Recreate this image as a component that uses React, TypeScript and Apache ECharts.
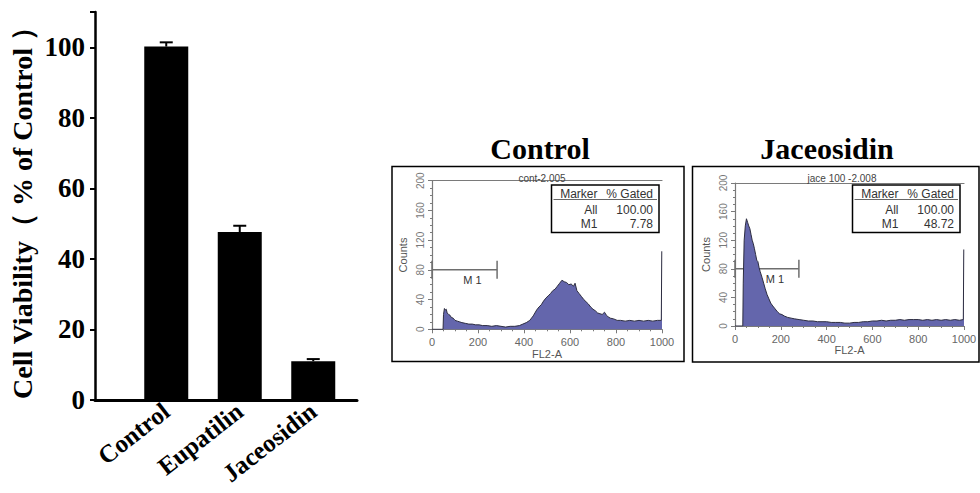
import React, { useEffect, useRef } from "react";
import * as echarts from "echarts";

const categories = ["Control", "Eupatilin", "Jaceosidin"];
const viability = [100.2, 47.6, 11.0];
const viabilityErr = [1.2, 1.8, 0.6];
const viabilityTicks = [0, 20, 40, 60, 80, 100];

const controlHist: number[][] = [
  [0, 0], [48, 0], [50, 20], [54, 28], [58, 26], [62, 27], [66, 22], [72, 20], [78, 19], [84, 16],
  [92, 15], [100, 12], [110, 11], [120, 10], [130, 9], [145, 8], [160, 7], [175, 7], [190, 6],
  [205, 6], [220, 5], [240, 5], [260, 4], [280, 5], [300, 4], [320, 3], [340, 4], [360, 4],
  [380, 5], [395, 7], [410, 9], [425, 12], [440, 18], [455, 26], [465, 30], [475, 33], [485, 38],
  [495, 42], [505, 45], [515, 48], [525, 52], [535, 54], [545, 58], [555, 62], [565, 66], [575, 64],
  [585, 63], [595, 60], [605, 61], [615, 58], [622, 62], [630, 52], [640, 48], [650, 44], [660, 40],
  [670, 37], [680, 34], [690, 30], [700, 27], [710, 25], [720, 22], [730, 21], [740, 20], [750, 23],
  [758, 19], [765, 17], [775, 15], [790, 14], [805, 12], [820, 12], [840, 11], [860, 12], [880, 11],
  [900, 12], [920, 11], [940, 12], [960, 11], [980, 12], [997, 12], [999, 105], [1000, 105],
];

const jaceHist: number[][] = [
  [0, 0], [34, 0], [36, 60], [40, 120], [45, 140], [50, 150], [55, 145], [60, 140], [65, 136],
  [70, 128], [75, 120], [80, 115], [85, 108], [90, 100], [95, 92], [100, 90], [105, 82], [110, 76],
  [118, 68], [125, 60], [132, 52], [140, 44], [148, 38], [156, 32], [165, 28], [175, 24], [185, 20],
  [195, 17], [205, 16], [215, 14], [230, 12], [245, 11], [260, 10], [280, 9], [300, 8], [320, 7],
  [340, 7], [360, 6], [380, 6], [400, 6], [420, 5], [440, 5], [460, 5], [480, 4], [500, 4], [520, 5],
  [540, 5], [560, 6], [580, 6], [600, 7], [620, 7], [640, 8], [660, 7], [680, 8], [700, 8], [720, 9],
  [740, 8], [760, 9], [780, 9], [800, 9], [820, 8], [840, 9], [860, 8], [880, 9], [900, 8], [920, 9],
  [940, 8], [960, 9], [980, 8], [997, 9], [999, 107], [1000, 107],
];

const controlMarker = [[0, 283, 80]];
const jaceMarker = [[0, 279, 80]];
const controlTable = [["Marker", "% Gated"], ["All", "100.00"], ["M1", "7.78"]];
const jaceTable = [["Marker", "% Gated"], ["All", "100.00"], ["M1", "48.72"]];

const SERIF = "'Liberation Serif', 'Times New Roman', serif";
const SANS = "'Liberation Sans', Arial, sans-serif";

function histAxes(grid: number) {
  const gray = "#7a7a7a";
  return {
    x: [
      {
        gridIndex: grid, type: "value", min: 0, max: 1000, interval: 200,
        name: "FL2-A", nameLocation: "middle", nameGap: 18,
        nameTextStyle: { color: "#555", fontSize: 11, fontFamily: SANS },
        axisLine: { show: true, onZero: false, lineStyle: { color: gray, width: 1.2 } },
        axisTick: { show: true, length: 4, lineStyle: { color: gray } },
        minorTick: { show: true, splitNumber: 4, length: 2, lineStyle: { color: gray } },
        axisLabel: { color: "#666", fontSize: 11, fontFamily: SANS, margin: 7, formatter: (v: number) => String(v) },
        splitLine: { show: false },
      },
      {
        gridIndex: grid, type: "value", min: 0, max: 1000, position: "top",
        axisLine: { show: true, onZero: false, lineStyle: { color: gray, width: 1.2 } },
        axisTick: { show: false }, axisLabel: { show: false }, splitLine: { show: false },
      },
    ],
    y: {
      gridIndex: grid, type: "value", min: 0, max: 200, interval: 40,
      name: "Counts", nameLocation: "middle", nameGap: 24,
      nameTextStyle: { color: "#555", fontSize: 11, fontFamily: SANS },
      axisLine: { show: true, lineStyle: { color: gray, width: 1.2 } },
      axisTick: { show: true, length: 4, lineStyle: { color: gray } },
      minorTick: { show: true, splitNumber: 4, length: 2, lineStyle: { color: gray } },
      axisLabel: { color: "#777", fontSize: 10, fontFamily: SANS, rotate: 90, margin: 7 },
      splitLine: { show: false },
    },
  };
}

function markerRender(params: any, api: any) {
  const x0 = api.value(0), x1 = api.value(1), y = api.value(2);
  const a = api.coord([x0, y]);
  const b = api.coord([x1, y]);
  const st = { stroke: "#6e6e6e", lineWidth: 1.5 };
  return {
    type: "group",
    children: [
      { type: "line", shape: { x1: a[0], y1: a[1], x2: b[0], y2: b[1] }, style: st },
      { type: "line", shape: { x1: a[0], y1: a[1] - 9, x2: a[0], y2: a[1] + 9 }, style: st },
      { type: "line", shape: { x1: b[0], y1: b[1] - 9, x2: b[0], y2: b[1] + 9 }, style: st },
      {
        type: "text", x: (a[0] + b[0]) / 2 + 8, y: a[1] + 10,
        style: { text: "M 1", fill: "#333", font: `11px ${SANS}`, align: "center", verticalAlign: "middle" },
      },
    ],
  };
}

function tableGraphics(x: number, y: number, rows: string[][]) {
  const w = 107.5, h = 47.5;
  const els: any[] = [
    { type: "rect", shape: { x, y, width: w, height: h }, style: { fill: "#fff", stroke: "#000", lineWidth: 1.5 } },
    { type: "line", shape: { x1: x + 2, y1: y + 14.5, x2: x + w - 2, y2: y + 14.5 }, style: { stroke: "#666", lineWidth: 1 } },
  ];
  const rowY = [y + 8.5, y + 24.5, y + 38.5];
  rows.forEach((r, i) => {
    els.push({ type: "text", x: x + 46, y: rowY[i], style: { text: r[0], fill: "#333", font: `12px ${SANS}`, align: "right", verticalAlign: "middle" } });
    els.push({ type: "text", x: x + 101.5, y: rowY[i], style: { text: r[1], fill: "#333", font: `12px ${SANS}`, align: "right", verticalAlign: "middle" } });
  });
  return els;
}

export default function App() {
  const ref = useRef<HTMLDivElement>(null);
  useEffect(() => {
    if (!ref.current) return;
    const chart = echarts.init(ref.current, null, { renderer: "svg" });
    const h2 = histAxes(2);
    const h3 = histAxes(3);
    const option: any = {
      animation: false,
      backgroundColor: "#fff",
      grid: [
        { left: 95, top: 12, width: 262, height: 388, outerBoundsMode: "none", containLabel: false },
        { left: 129.5, top: 12, width: 220.5, height: 388, outerBoundsMode: "none", containLabel: false },
        { left: 432, top: 180.7, width: 230, height: 148.6, outerBoundsMode: "none", containLabel: false },
        { left: 735, top: 183, width: 229, height: 143, outerBoundsMode: "none", containLabel: false },
      ],
      xAxis: [
        {
          gridIndex: 0, type: "value", min: 0, max: 1,
          axisLine: { show: true, lineStyle: { color: "#000", width: 3 } },
          axisTick: { show: false }, axisLabel: { show: false }, splitLine: { show: false },
        },
        {
          gridIndex: 1, type: "category", data: categories,
          axisLine: { show: false }, axisTick: { show: false },
          axisLabel: { rotate: 38, fontFamily: SERIF, fontWeight: "bold", fontSize: 25, color: "#000", margin: 8 },
        },
        h2.x[0], h2.x[1], h3.x[0], h3.x[1],
      ],
      yAxis: [
        {
          gridIndex: 0, type: "value", min: 0, max: 110, interval: 20,
          name: "Cell Viability（ % of Control ）", nameLocation: "middle", nameGap: 59,
          nameTextStyle: { fontFamily: SERIF, fontWeight: "bold", fontSize: 28, color: "#000" },
          axisLine: { show: true, lineStyle: { color: "#000", width: 2.5 } },
          axisTick: { show: true, length: 5, lineStyle: { color: "#000", width: 2 } },
          axisLabel: {
            fontFamily: SERIF, fontWeight: "bold", fontSize: 27, color: "#000", margin: 10,
            formatter: (v: number) => (viabilityTicks.includes(v) ? String(v) : ""),
          },
          splitLine: { show: false },
        },
        { gridIndex: 1, type: "value", min: 0, max: 110, show: false },
        h2.y,
        h3.y,
      ],
      title: [
        { text: "cont-2.005", left: 537, top: 168, textAlign: "center", textStyle: { fontSize: 10, fontWeight: "normal", color: "#444", fontFamily: SANS } },
        { text: "jace 100 -2.008", left: 837, top: 168, textAlign: "center", textStyle: { fontSize: 10, fontWeight: "normal", color: "#444", fontFamily: SANS } },
      ],
      graphic: [
        { type: "text", x: 540, y: 148, style: { text: "Control", font: `bold 30px ${SERIF}`, fill: "#000", align: "center", verticalAlign: "middle" } },
        { type: "text", x: 827, y: 148, style: { text: "Jaceosidin", font: `bold 30px ${SERIF}`, fill: "#000", align: "center", verticalAlign: "middle" } },
        { type: "rect", shape: { x: 392, y: 166.5, width: 292, height: 195 }, style: { fill: "none", stroke: "#000", lineWidth: 1.5 } },
        { type: "rect", shape: { x: 692.5, y: 166.5, width: 286.5, height: 195.5 }, style: { fill: "none", stroke: "#000", lineWidth: 1.5 } },
        ...tableGraphics(551.5, 185, controlTable),
        ...tableGraphics(852.5, 185, jaceTable),
      ],
      series: [
        {
          type: "bar", xAxisIndex: 1, yAxisIndex: 1, data: viability, barWidth: 44,
          itemStyle: { color: "#000" },
        },
        {
          type: "custom", xAxisIndex: 1, yAxisIndex: 1,
          data: viability.map((v, i) => [i, v, viabilityErr[i]]),
          renderItem: (params: any, api: any) => {
            const top = api.coord([api.value(0), api.value(1) + api.value(2)]);
            const base = api.coord([api.value(0), api.value(1)]);
            const st = { stroke: "#000", lineWidth: 2 };
            return {
              type: "group",
              children: [
                { type: "line", shape: { x1: top[0], y1: top[1], x2: base[0], y2: base[1] }, style: st },
                { type: "line", shape: { x1: top[0] - 6.5, y1: top[1], x2: top[0] + 6.5, y2: top[1] }, style: st },
              ],
            };
          },
        },
        {
          type: "line", xAxisIndex: 2, yAxisIndex: 2, data: controlHist, symbol: "none",
          lineStyle: { color: "#2d2d40", width: 1 }, areaStyle: { color: "#6466ac", opacity: 1 },
        },
        {
          type: "line", xAxisIndex: 4, yAxisIndex: 3, data: jaceHist, symbol: "none",
          lineStyle: { color: "#2d2d40", width: 1 }, areaStyle: { color: "#6466ac", opacity: 1 },
        },
        { type: "custom", xAxisIndex: 2, yAxisIndex: 2, data: controlMarker, renderItem: markerRender, clip: false },
        { type: "custom", xAxisIndex: 4, yAxisIndex: 3, data: jaceMarker, renderItem: markerRender, clip: false },
      ],
    };
    chart.setOption(option);
    return () => chart.dispose();
  }, []);
  return <div ref={ref} style={{ width: 980, height: 493, position: "absolute", left: 0, top: 0 }} />;
}
